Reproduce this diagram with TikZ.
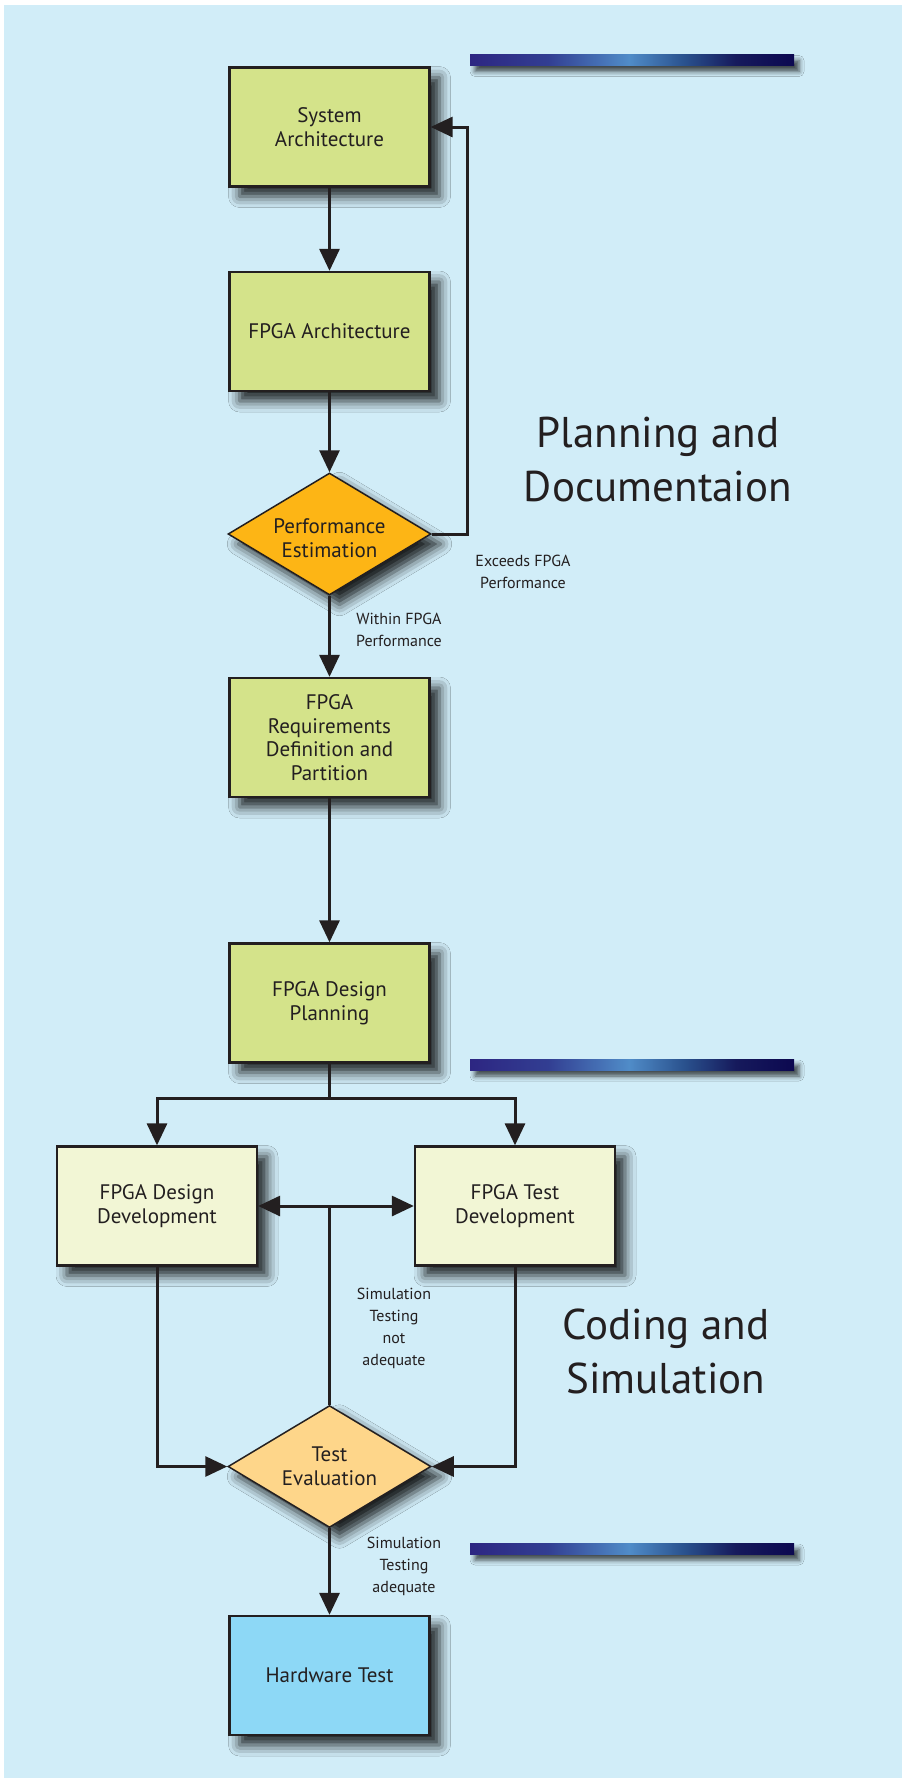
\documentclass[tikz,border=0pt]{standalone}
\usepackage{fontspec}
\setmainfont{PT Sans}
\usetikzlibrary{arrows.meta,shapes.geometric,shadows.blur}

\definecolor{bgblue}{RGB}{209,237,248}
\definecolor{lineC}{RGB}{35,31,32}
\definecolor{greenbox}{RGB}{212,227,138}
\definecolor{paleyellow}{RGB}{242,246,213}
\definecolor{orangedia}{RGB}{253,181,21}
\definecolor{paleorange}{RGB}{254,214,138}
\definecolor{hwblue}{RGB}{141,216,246}
\definecolor{barA}{RGB}{45,38,130}
\definecolor{barB}{RGB}{50,62,146}
\definecolor{barC}{RGB}{80,140,200}
\definecolor{barD}{RGB}{42,82,142}
\definecolor{barE}{RGB}{22,26,92}
\definecolor{barF}{RGB}{12,8,80}

% horizontal band used for the section rules (the path covers 25bp..75bp)
\pgfdeclarehorizontalshading{barshade}{100bp}{color(0bp)=(barA); color(25bp)=(barA); color(37bp)=(barB); color(49.5bp)=(barC); color(58bp)=(barD); color(66bp)=(barE); color(75bp)=(barF); color(100bp)=(barF)}

\tikzset{
  dropshadow/.style={blur shadow={shadow xshift=10pt, shadow yshift=-10pt, shadow blur radius=11pt, shadow opacity=85}},
  box/.style={rectangle, draw=lineC, line width=2.3pt, minimum width=200pt, minimum height=119pt,
    inner sep=2pt, align=center, text=lineC, font=\fontsize{21}{23.5}\selectfont, dropshadow},
  decision/.style={diamond, draw=lineC, line width=1.5pt, minimum width=203pt, minimum height=122pt,
    aspect=1.66, inner sep=0pt, align=center, text=lineC, font=\fontsize{21}{24}\selectfont, dropshadow},
  rulebar/.style={rectangle, minimum width=324pt, minimum height=11pt, inner sep=0pt, shading=barshade,
    blur shadow={shadow xshift=5pt, shadow yshift=-6pt, shadow blur radius=5pt, shadow opacity=70}},
  small/.style={align=center, text=lineC, font=\fontsize{16}{22}\selectfont},
  title/.style={align=center, text=lineC, font=\fontsize{43}{54}\selectfont},
  wire/.style={draw=lineC, line width=3pt},
  arr/.style={wire, -{Triangle[length=22pt,width=20pt]}},
  arrboth/.style={wire, {Triangle[length=22pt,width=20pt]}-{Triangle[length=22pt,width=20pt]}},
}

\begin{document}
\begin{tikzpicture}[x=1pt,y=-1pt]
\useasboundingbox (0,0) rectangle (902,1778);
\fill[bgblue] (4,5) rectangle (902,1778);

% section rules
\node[rulebar] (bar1) at (632,60) {};
\node[rulebar] (bar2) at (632,1064.5) {};
\node[rulebar] (bar3) at (632,1548.5) {};

% planning stage
\node[box, fill=greenbox] (sys) at (329.5,127) {System\\Architecture};
\node[box, fill=greenbox] (farch) at (329.5,331.5) {FPGA Architecture};
\node[decision, fill=orangedia] (perf) at (329.5,534) {\rule{0pt}{24pt}Performance\\Estimation};
\node[box, fill=greenbox] (req) at (329.5,737.5) {FPGA\\Requirements\\Definition and\\Partition};
\node[box, fill=greenbox] (plan) at (329.5,1003) {FPGA Design\\Planning};

% coding stage
\node[box, fill=paleyellow] (ddev) at (157,1206) {FPGA Design\\Development};
\node[box, fill=paleyellow] (tdev) at (515,1206) {FPGA Test\\Development};
\node[decision, fill=paleorange] (teval) at (329.5,1466.5) {Test\\Evaluation};
\node[box, fill=hwblue] (hw) at (329.5,1675.5) {Hardware Test};

% section titles
\node[title] (t1) at (658,460) {Planning and\\Documentaion};
\node[title] (t2) at (666,1351) {Coding and\\Simulation};

% branch labels
\node[small] (lexceed) at (523,572) {Exceeds FPGA\\Performance};
\node[small] (lwithin) at (399,630) {Within FPGA\\Performance};
\node[small] (lnot) at (394,1328) {Simulation\\Testing\\not\\adequate};
\node[small] (lok) at (404,1566) {Simulation\\Testing\\adequate};

% connectors
\draw[arr] (sys) -- (farch);
\draw[arr] (farch) -- (perf);
\draw[arr] (perf.east) -- ++(36,0) |- (sys.east);
\draw[arr] (perf) -- (req);
\draw[arr] (req) -- (plan);
\coordinate (split) at (329.5,1098);
\draw[wire] (plan.south) -- (split);
\draw[arr] (split) -| (ddev.north);
\draw[arr] (split) -| (tdev.north);
\draw[arrboth] (ddev.east) -- (tdev.west);
\draw[wire] (teval.north) -- (teval.north |- ddev.east);
\draw[arr] (ddev.south) |- (teval.west);
\draw[arr] (tdev.south) |- (teval.east);
\draw[arr] (teval) -- (hw);
\end{tikzpicture}
\end{document}
